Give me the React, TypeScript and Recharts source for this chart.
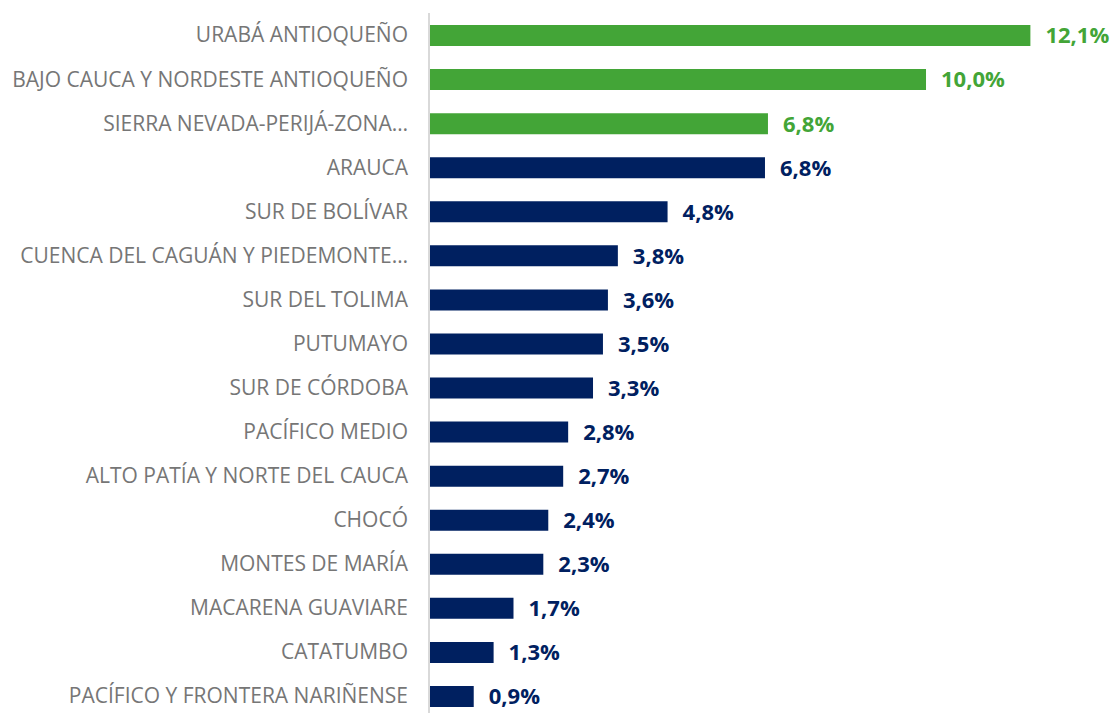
import React from "react";
import { BarChart, Bar, XAxis, YAxis, Cell, LabelList } from "recharts";

const regions = [
  "URABÁ ANTIOQUEÑO",
  "BAJO CAUCA Y NORDESTE ANTIOQUEÑO",
  "SIERRA NEVADA-PERIJÁ-ZONA…",
  "ARAUCA",
  "SUR DE BOLÍVAR",
  "CUENCA DEL CAGUÁN Y PIEDEMONTE…",
  "SUR DEL TOLIMA",
  "PUTUMAYO",
  "SUR DE CÓRDOBA",
  "PACÍFICO MEDIO",
  "ALTO PATÍA Y NORTE DEL CAUCA",
  "CHOCÓ",
  "MONTES DE MARÍA",
  "MACARENA GUAVIARE",
  "CATATUMBO",
  "PACÍFICO Y FRONTERA NARIÑENSE",
];

const shares = [12.1, 10.0, 6.82, 6.76, 4.8, 3.8, 3.6, 3.5, 3.3, 2.8, 2.7, 2.4, 2.3, 1.7, 1.3, 0.9];

// first three regions are highlighted in the source chart
const highlighted = [true, true, true, false, false, false, false, false, false, false, false, false, false, false, false, false];

const GREEN = "#43a537";
const NAVY = "#002060";

const data = regions.map((name, i) => ({ name, value: shares[i], top: highlighted[i] }));

const fmt = (v: number) => v.toFixed(1).replace(".", ",") + "%";

const ValueLabel = (props: any) => {
  const { x, y, width, height, value, index } = props;
  return (
    <text
      x={x + width + 15}
      y={y + height / 2}
      dy="0.36em"
      fill={highlighted[index] ? GREEN : NAVY}
      fontSize={22}
      fontWeight="bold"
      fontFamily="'Open Sans', sans-serif"
    >
      {fmt(value)}
    </text>
  );
};

export default function App() {
  return (
    <div style={{ position: "absolute", left: 0, top: 0, width: 1117, height: 713, overflow: "hidden", background: "#fff" }}>
      <BarChart
        width={1117}
        height={730}
        data={data}
        layout="vertical"
        margin={{ top: 13, right: 22, bottom: 12, left: 0 }}
        barCategoryGap={0}
      >
        <XAxis type="number" domain={[0, 13.4]} hide />
        <YAxis
          type="category"
          dataKey="name"
          width={429}
          interval={0}
          tickLine={false}
          tickSize={0}
          tickMargin={21}
          axisLine={{ stroke: "#d9d9d9", strokeWidth: 2 }}
          tick={{ fill: "#767676", fontSize: 21, fontFamily: "'Open Sans', sans-serif" }}
        />
        <Bar dataKey="value" barSize={21} isAnimationActive={false}>
          {data.map((d, i) => (
            <Cell key={i} fill={d.top ? GREEN : NAVY} />
          ))}
          <LabelList dataKey="value" content={ValueLabel} />
        </Bar>
      </BarChart>
    </div>
  );
}
